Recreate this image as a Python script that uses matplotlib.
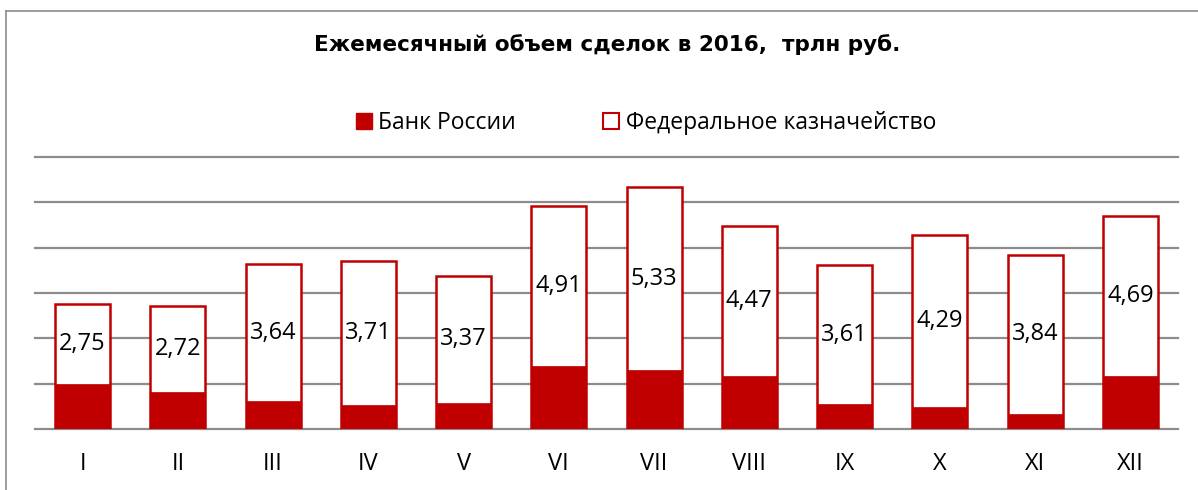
import numpy as np
import matplotlib
matplotlib.use("Agg")
import matplotlib.pyplot as plt
from matplotlib.patches import Patch
from matplotlib.lines import Line2D

# данные
months = ["I", "II", "III", "IV", "V", "VI", "VII", "VIII", "IX", "X", "XI", "XII"]
treasury = [2.75, 2.72, 3.64, 3.71, 3.37, 4.91, 5.33, 4.47, 3.61, 4.29, 3.84, 4.69]
bank = [0.99, 0.82, 0.61, 0.54, 0.58, 1.39, 1.30, 1.17, 0.55, 0.48, 0.34, 1.17]
labels = ["2,75", "2,72", "3,64", "3,71", "3,37", "4,91", "5,33", "4,47", "3,61", "4,29", "3,84", "4,69"]

red = "#C00000"
grid_c = "#8c8c8c"
W, H = 1198, 490

fig = plt.figure(figsize=(W / 100, H / 100), dpi=100)
ax = fig.add_axes([35 / W, (H - 429) / H, 1143 / W, 272 / H])

x = np.arange(len(months))
# казначейство - белый столбец с красной рамкой, банк поверх
ax.bar(x, treasury, width=0.58, color="white", edgecolor=red, linewidth=1.8, zorder=2)
ax.bar(x, bank, width=0.58, color=red, edgecolor=red, linewidth=0.5, zorder=3)

for i in range(len(months)):
    ax.text(x[i], (bank[i] + treasury[i]) / 2, labels[i], ha="center", va="center",
            fontsize=17, family="Open Sans", color="black", zorder=4)

ax.set_xlim(-0.5, 11.5)
ax.set_ylim(0, 6)
ax.set_yticks(np.arange(0, 7, 1))
ax.yaxis.grid(True, color=grid_c, linewidth=1.6)
ax.set_axisbelow(True)
ax.tick_params(axis="y", left=False, labelleft=False)
ax.tick_params(axis="x", bottom=False, pad=13)
ax.set_xticks(x)
ax.set_xticklabels(months, fontsize=17, family="Open Sans")
for s in ax.spines.values():
    s.set_visible(False)
for gl in ax.get_ygridlines():
    gl.set_clip_on(False)

# заголовок
fig.text(607 / W, 1 - 45 / H, "Ежемесячный объем сделок в 2016,  трлн руб.",
         ha="center", va="center", fontsize=15.5, fontweight="bold", family="DejaVu Sans")

# легенда
handles = [Patch(facecolor=red, edgecolor=red),
           Patch(facecolor="white", edgecolor=red, linewidth=1.5)]
fig.legend(handles, ["Банк России", "Федеральное казначейство"], ncol=2,
           loc="center", bbox_to_anchor=(646 / W, 1 - 123 / H), frameon=False,
           prop={"family": "Open Sans", "size": 16.5}, handlelength=0.68, handleheight=0.68,
           handletextpad=0.3, columnspacing=3.8)

# рамка диаграммы
fig.add_artist(Line2D([6 / W, 6 / W], [0, 1 - 11 / H], transform=fig.transFigure,
                      color=grid_c, linewidth=1.2))
fig.add_artist(Line2D([6 / W, 1], [1 - 11 / H, 1 - 11 / H], transform=fig.transFigure,
                      color=grid_c, linewidth=1.2))

fig.savefig("out.png", dpi=100, facecolor="white")
